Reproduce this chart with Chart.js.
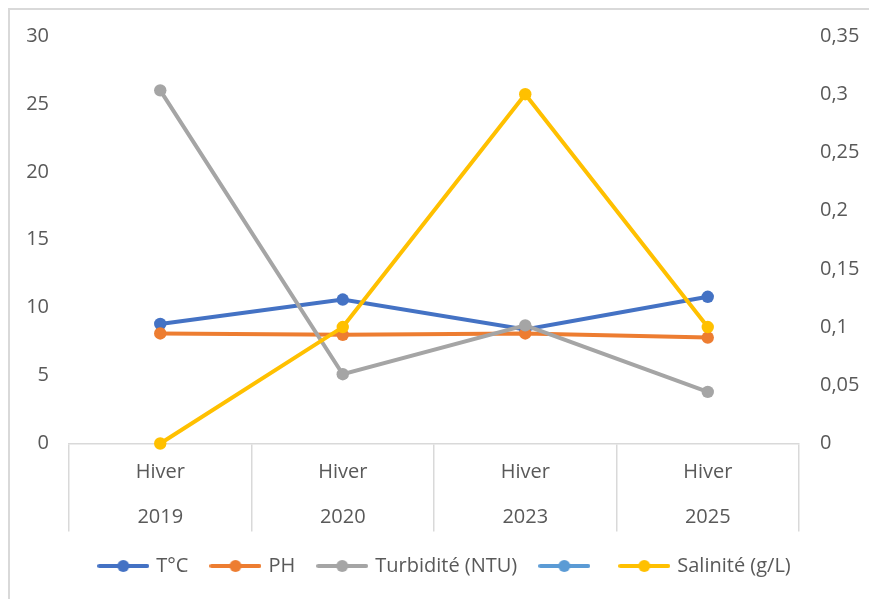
<!DOCTYPE html>
<html>
<head>
<meta charset="utf-8">
<script src="https://cdn.jsdelivr.net/npm/chart.js@4.4.1/dist/chart.umd.min.js"></script>
<style>
  html, body { margin: 0; padding: 0; background: #fff; overflow: hidden; }
  #wrap { position: relative; width: 869px; height: 599px; }
  #frame { position: absolute; left: 8px; top: 8px; width: 900px; height: 620px; border: 2px solid #d9d9d9; box-sizing: border-box; }
  #c { position: absolute; left: 0; top: 0; }
</style>
</head>
<body>
<div id="wrap">
  <div id="frame"></div>
  <canvas id="c" width="869" height="599"></canvas>
</div>
<script>
// ---- data ----
const seasons = ['Hiver', 'Hiver', 'Hiver', 'Hiver'];
const years = ['2019', '2020', '2023', '2025'];
const seriesNames = ['T°C', 'PH', 'Turbidité (NTU)', '', 'Salinité (g/L)'];
const tempValues = [8.8, 10.6, 8.4, 10.8];
const phValues = [8.1, 8.0, 8.1, 7.8];
const turbidityValues = [26.0, 5.1, 8.7, 3.8];
const blankValues = [null, null, null, null];
const salinityValues = [0, 0.1, 0.3, 0.1];
const leftTicks = [0, 5, 10, 15, 20, 25, 30];
const rightTicks = [0, 0.05, 0.1, 0.15, 0.2, 0.25, 0.3, 0.35];

// ---- styles ----
const colors = ['#4472C4', '#ED7D31', '#A5A5A5', '#5B9BD5', '#FFC000'];
const textColor = '#595959';
const FONT = "'Open Sans', sans-serif";
const FS = 20;

const labels = seasons.map((s, i) => [s, years[i]]);

function makeIcon(color) {
  const cv = document.createElement('canvas');
  cv.width = 52; cv.height = 14;
  const g = cv.getContext('2d');
  g.strokeStyle = color; g.lineWidth = 4; g.lineCap = 'round';
  g.beginPath(); g.moveTo(2, 7); g.lineTo(50, 7); g.stroke();
  g.fillStyle = color;
  g.beginPath(); g.arc(26, 7, 6, 0, Math.PI * 2); g.fill();
  return cv;
}
const icons = colors.map(makeIcon);

const allValues = [tempValues, phValues, turbidityValues, blankValues, salinityValues];
const datasets = allValues.map((vals, i) => ({
  label: seriesNames[i],
  data: vals,
  borderColor: colors[i],
  backgroundColor: colors[i],
  borderWidth: 4,
  pointRadius: 6.2,
  pointHoverRadius: 6.2,
  pointBorderWidth: 0,
  tension: 0,
  clip: false,
  order: 10 - i,
  yAxisID: i === 4 ? 'y1' : 'y'
}));

Chart.defaults.font.family = FONT;
Chart.defaults.font.size = FS;
Chart.defaults.color = textColor;

const legendShift = {
  id: 'legendShift',
  afterLayout(chart) { if (chart.legend) { chart.legend.left += 22; } }
};

new Chart(document.getElementById('c'), {
  type: 'line',
  data: { labels: labels, datasets: datasets },
  plugins: [legendShift],
  options: {
    responsive: false,
    animation: false,
    layout: { padding: { top: 36, left: 0, right: 0, bottom: 13 } },
    plugins: {
      tooltip: { enabled: false },
      legend: {
        position: 'bottom',
        labels: {
          usePointStyle: true,
          pointStyleWidth: 46,
          padding: 24,
          color: textColor,
          font: { size: FS, family: FONT },
          sort: (a, b) => a.datasetIndex - b.datasetIndex,
          generateLabels(chart) {
            const items = Chart.defaults.plugins.legend.labels.generateLabels(chart);
            items.forEach(it => { it.pointStyle = icons[it.datasetIndex]; });
            return items;
          }
        }
      }
    },
    scales: {
      x: {
        type: 'category',
        offset: true,
        grid: {
          display: true,
          offset: true,
          drawOnChartArea: false,
          drawTicks: true,
          tickLength: 88,
          color: '#d9d9d9',
          lineWidth: 1.5
        },
        border: { display: true, color: '#d9d9d9', width: 1.5 },
        ticks: {
          color: textColor,
          font: { size: FS, family: FONT, lineHeight: 45 / FS },
          padding: -81.5,
          maxRotation: 0,
          autoSkip: false
        },
        afterFit(scale) { scale.height = 88.5; }
      },
      y: {
        position: 'left',
        min: leftTicks[0],
        max: leftTicks[leftTicks.length - 1],
        grid: { display: false, drawTicks: false },
        border: { display: false },
        afterBuildTicks(scale) { scale.ticks = leftTicks.map(v => ({ value: v })); },
        ticks: {
          color: textColor,
          padding: 20,
          font: { size: FS, family: FONT },
          callback: v => String(v)
        },
        afterFit(scale) { scale.width = 69; }
      },
      y1: {
        position: 'right',
        min: rightTicks[0],
        max: rightTicks[rightTicks.length - 1],
        grid: { display: false, drawTicks: false },
        border: { display: false },
        afterBuildTicks(scale) { scale.ticks = rightTicks.map(v => ({ value: v })); },
        ticks: {
          color: textColor,
          padding: 21,
          font: { size: FS, family: FONT },
          callback: v => String(+Number(v).toFixed(2)).replace('.', ',')
        },
        afterFit(scale) { scale.width = 70; }
      }
    }
  }
});
</script>
</body>
</html>
